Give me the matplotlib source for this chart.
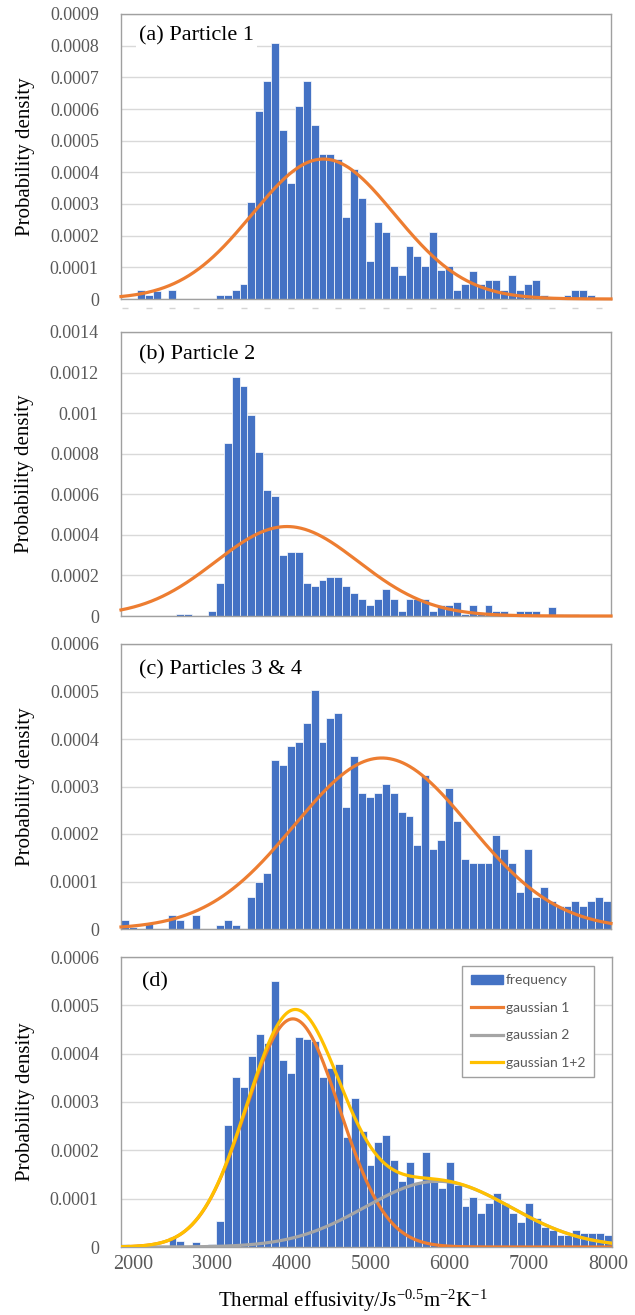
import numpy as np
import matplotlib
matplotlib.use("Agg")
import matplotlib.pyplot as plt
import matplotlib.transforms as mtransforms
from matplotlib.ticker import FuncFormatter, MultipleLocator
from matplotlib.patches import Patch
from matplotlib.lines import Line2D

plt.rcParams["axes.unicode_minus"] = False
plt.rcParams["mathtext.fontset"] = "custom"
plt.rcParams["mathtext.rm"] = "Liberation Serif"
plt.rcParams["mathtext.it"] = "Liberation Serif:italic"

# ---------------- data ----------------
bin_centers = list(range(1900, 8001, 100))  # 62 category bins, width 100

# probability density values, in units of 1e-4
dens_a = [0, 0, 0.28, 0.13, 0.25, 0, 0.28, 0, 0, 0,
          0, 0, 0.13, 0.13, 0.30, 0.46, 3.05, 5.94, 6.87, 8.08,
          5.34, 3.66, 6.10, 6.87, 5.50, 4.57, 4.57, 4.42, 2.58, 4.10,
          3.18, 1.20, 2.44, 2.12, 1.05, 0.75, 1.68, 1.37, 1.05, 2.12,
          0.92, 1.05, 0.30, 0.46, 0.90, 0.46, 0.60, 0.60, 0.30, 0.75,
          0.30, 0.46, 0.60, 0.13, 0, 0, 0.13, 0.30, 0.30, 0.13,
          0, 0]
dens_b = [0, 0, 0, 0, 0, 0, 0, 0.10, 0.10, 0,
          0, 0.26, 1.63, 8.52, 11.79, 11.32, 9.92, 8.06, 6.23, 5.92,
          3.03, 3.17, 3.17, 1.63, 1.48, 1.78, 1.92, 1.92, 1.48, 1.15,
          0.84, 0.56, 0.84, 1.32, 0.84, 0.26, 0.84, 0.84, 0.84, 0.26,
          0.56, 0.56, 0.70, 0.10, 0.56, 0.10, 0.56, 0.26, 0.26, 0.10,
          0.26, 0.26, 0.26, 0, 0.43, 0.10, 0.10, 0.10, 0, 0,
          0, 0]
dens_c = [0.18, 0.05, 0, 0.10, 0, 0, 0.29, 0.18, 0, 0.29,
          0, 0, 0.085, 0.18, 0.085, 0, 0.68, 0.98, 1.18, 3.55,
          3.45, 3.85, 3.94, 4.34, 5.04, 3.94, 4.44, 4.54, 2.57, 3.65,
          2.87, 2.77, 2.87, 3.05, 2.87, 2.47, 2.37, 1.77, 3.25, 1.68,
          1.88, 2.96, 2.27, 1.48, 1.38, 1.38, 1.38, 1.97, 1.68, 1.38,
          0.78, 1.68, 0.68, 0.88, 0.58, 0.48, 0.48, 0.58, 0.48, 0.58,
          0.68, 0.58]
dens_d = [0.06, 0, 0.06, 0.06, 0, 0, 0.20, 0.13, 0, 0.11,
          0, 0.06, 0.54, 2.53, 3.52, 3.31, 3.95, 4.40, 4.23, 5.51,
          3.87, 3.61, 4.35, 4.31, 4.26, 3.52, 3.70, 3.79, 2.27, 3.09,
          2.40, 1.70, 2.18, 2.32, 1.80, 1.37, 1.75, 1.35, 1.96, 1.34,
          1.23, 1.75, 1.28, 0.85, 1.03, 0.71, 0.92, 1.11, 0.91, 0.71,
          0.51, 0.92, 0.60, 0.42, 0.35, 0.25, 0.25, 0.35, 0.28, 0.28,
          0.28, 0.25]

# fitted gaussian parameters: (mean, sd, peak density)
fit_a = (4410, 900, 0.000442)
fit_b = (3950, 905, 0.000441)
fit_c = (5150, 1108, 0.000360)
fit_d1 = (4020, 590, 0.000472)
fit_d2 = (5850, 920, 0.000136)

panel_labels = ["(a) Particle 1", "(b) Particle 2", "(c) Particles 3 & 4", "(d)"]
y_max = [0.0009, 0.0014, 0.0006, 0.0006]
y_step = [0.0001, 0.0002, 0.0001, 0.0001]
x_ticks = [2000, 3000, 4000, 5000, 6000, 7000, 8000]
stub_ticks_a = list(range(1900, 8000, 300))  # faint clipped category-label stubs under panel (a)
legend_labels = ["frequency", "gaussian 1", "gaussian 2", "gaussian 1+2"]

# ---------------- style ----------------
BLUE = "#4472C4"
ORANGE = "#ED7D31"
GRAY = "#A5A5A5"
YELLOW = "#FFC000"
GRID = "#D9D9D9"
SPINE = "#A0A0A0"
TXT = "#595959"
SERIF = ["Liberation Serif", "DejaVu Serif"]

W, H = 635, 1315
fig = plt.figure(figsize=(W / 100, H / 100), dpi=100)

# axes boxes in pixels: (left, top, right, bottom)
boxes = [(121, 14, 611, 299), (121, 332, 611, 616), (121, 644, 611, 929), (121, 957, 612, 1247)]
label_pos = [(0.037, 0.923), (0.037, 0.919), (0.037, 0.909), (0.043, 0.914)]

xs = np.linspace(1850, 8050, 600)


def gauss(x, p):
    m, s, a = p
    return a * np.exp(-0.5 * ((x - m) / s) ** 2)


fmt = FuncFormatter(lambda v, pos: ("%.4f" % v).rstrip("0").rstrip(".") if abs(v) > 1e-12 else "0")

datasets = [dens_a, dens_b, dens_c, dens_d]
axes = []
for i, (l, t, r, b) in enumerate(boxes):
    ax = fig.add_axes([l / W, 1 - b / H, (r - l) / W, (b - t) / H])
    axes.append(ax)
    vals = np.array(datasets[i]) * 1e-4
    ax.bar(bin_centers, vals, width=100, color=BLUE, edgecolor="white", linewidth=0.5, zorder=2)
    ax.set_xlim(1850, 8050)
    ax.set_ylim(0, y_max[i])
    ax.yaxis.set_major_locator(MultipleLocator(y_step[i]))
    ax.yaxis.set_major_formatter(fmt)
    ax.grid(axis="y", color=GRID, linewidth=1.0, zorder=0)
    ax.set_axisbelow(True)
    for sp in ax.spines.values():
        sp.set_color(SPINE)
        sp.set_linewidth(1.0)
    ax.tick_params(axis="y", length=0, pad=16, labelsize=13, labelcolor=TXT)
    for lab in ax.get_yticklabels():
        lab.set_fontfamily(SERIF)
    ax.set_ylabel("Probability density", fontsize=15, family=SERIF, color="black", labelpad=11)
    ax.text(label_pos[i][0], label_pos[i][1], panel_labels[i], transform=ax.transAxes,
            fontsize=16, family=SERIF, va="center", ha="left", zorder=5,
            bbox=dict(facecolor="white", edgecolor="none", pad=2))
    if i < 3:
        ax.set_xticks(x_ticks)
        ax.tick_params(axis="x", length=0, labelbottom=False)

for ax, p in zip(axes[:3], [fit_a, fit_b, fit_c]):
    ax.plot(xs, gauss(xs, p), color=ORANGE, linewidth=2.3, zorder=3, clip_on=False)

# faint stubs below panel (a)
axa = axes[0]
trans = mtransforms.blended_transform_factory(axa.transData, axa.transAxes)
axa.plot(stub_ticks_a, [-0.032] * len(stub_ticks_a), linestyle="none", marker="_",
         markersize=5, markeredgewidth=1.0, color="#D4D4D4", transform=trans, clip_on=False)

axd = axes[3]
g1 = gauss(xs, fit_d1)
g2 = gauss(xs, fit_d2)
axd.plot(xs, g1, color=ORANGE, linewidth=2.3, zorder=3)
axd.plot(xs, g2, color=GRAY, linewidth=2.3, zorder=3)
axd.plot(xs, g1 + g2, color=YELLOW, linewidth=2.3, zorder=4)
axd.set_xticks(x_ticks)
axd.tick_params(axis="x", length=0, pad=6, labelsize=14.5, labelcolor=TXT)
for lab in axd.get_xticklabels():
    lab.set_fontfamily(SERIF)
axd.set_xlabel(r"Thermal effusivity/Js$^{\mathregular{-0.5}}$m$^{\mathregular{-2}}$K$^{\mathregular{-1}}$",
               fontsize=15, family=SERIF, labelpad=10)
axd.xaxis.label.set_x(0.472)

handles = [Patch(facecolor=BLUE, edgecolor=BLUE),
           Line2D([], [], color=ORANGE, linewidth=2.3),
           Line2D([], [], color=GRAY, linewidth=2.3),
           Line2D([], [], color=YELLOW, linewidth=2.3)]
leg = axd.legend(handles, legend_labels, loc="upper left", bbox_to_anchor=(0.695, 0.969),
                 frameon=True, fancybox=False, edgecolor=SPINE, framealpha=1,
                 prop={"family": ["Lato", "DejaVu Sans"], "size": 10},
                 labelspacing=1.12, handlelength=2.35, handletextpad=0.2, borderpad=0.6,
                 borderaxespad=0)
leg.get_frame().set_linewidth(1.0)
for t in leg.get_texts():
    t.set_color(TXT)

fig.savefig("out.png", dpi=100)
